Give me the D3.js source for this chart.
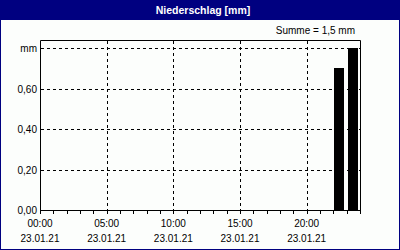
<!DOCTYPE html>
<html>
<head>
<meta charset="utf-8">
<script src="https://cdn.jsdelivr.net/npm/d3@7"></script>
<style>
  body { margin: 0; background: #fff; }
  svg text { font-family: "Liberation Sans", sans-serif; font-size: 10px; fill: #000; }
</style>
</head>
<body>
<div id="chart"></div>
<script>
// Hourly precipitation, 23.01.21
const hours = d3.range(0, 24);
const values = [0, 0, 0, 0, 0, 0, 0, 0, 0, 0, 0, 0,
                0, 0, 0, 0, 0, 0, 0, 0, 0, 0, 0.7, 0.8];
const yTicks = [0, 0.2, 0.4, 0.6, 0.8];
const xLabelHours = [0, 5, 10, 15, 20];
const dateLabel = "23.01.21";
const title = "Niederschlag [mm]";
const total = "Summe = 1,5 mm";

const width = 400, height = 250;
const navy = "#000080";

const svg = d3.select("#chart").append("svg")
    .attr("width", width)
    .attr("height", height)
    .attr("viewBox", [0, 0, width, height]);

// Background and frame
svg.append("rect")
    .attr("x", 0.5).attr("y", 0.5)
    .attr("width", width - 1).attr("height", height - 1)
    .attr("fill", "#fcfefc")
    .attr("stroke", navy);

svg.append("rect")
    .attr("x", 0).attr("y", 0)
    .attr("width", width).attr("height", 20)
    .attr("fill", navy);

svg.append("text")
    .attr("x", 203).attr("y", 14)
    .attr("text-anchor", "middle")
    .style("font-weight", "bold")
    .style("font-size", "10.5px")
    .style("fill", "#fff")
    .text(title);

svg.append("text")
    .attr("x", 355).attr("y", 34)
    .attr("text-anchor", "end")
    .text(total);

// Scales
const x = d3.scaleLinear().domain([0, 24]).range([40, 360]);
const y = d3.scaleLinear().domain([0, 0.84]).range([210, 40]);

const px = v => Math.round(v) + 0.5;

// Grid
const grid = svg.append("g")
    .attr("stroke", "#000")
    .attr("stroke-dasharray", "3,3");

grid.selectAll(".gy")
    .data(yTicks.filter(d => d > 0))
    .join("line")
    .attr("x1", 41).attr("x2", 360)
    .attr("y1", d => px(y(d))).attr("y2", d => px(y(d)));

grid.selectAll(".gx")
    .data(xLabelHours.filter(d => d > 0))
    .join("line")
    .attr("x1", d => px(x(d))).attr("x2", d => px(x(d)))
    .attr("y1", 41).attr("y2", 210);

// Bars
svg.append("g")
    .selectAll("rect")
    .data(hours.map((h, i) => ({h, v: values[i]})).filter(d => d.v > 0))
    .join("rect")
    .attr("x", d => Math.round(x(d.h)) + 1)
    .attr("width", d => Math.round(x(d.h + 1) - x(d.h)) - 3)
    .attr("y", d => Math.round(y(d.v)))
    .attr("height", d => 210 - Math.round(y(d.v)))
    .attr("fill", "#000");

// Plot box
svg.append("path")
    .attr("d", `M${px(x(0))},${px(y(0))}V${px(40)}H${px(x(24))}V${px(y(0))}Z`)
    .attr("fill", "none")
    .attr("stroke", "#000");

// Hourly ticks on x axis
svg.append("g")
    .attr("stroke", "#000")
    .selectAll("line")
    .data(d3.range(0, 25))
    .join("line")
    .attr("x1", d => px(x(d))).attr("x2", d => px(x(d)))
    .attr("y1", 210).attr("y2", 214);

// Y labels
svg.append("g")
    .selectAll("text")
    .data(yTicks)
    .join("text")
    .attr("x", 37)
    .attr("y", d => y(d) + 4)
    .attr("text-anchor", "end")
    .text(d => d === 0.8 ? "mm" : d3.format(".2f")(d).replace(".", ","));

// X labels
const xl = svg.append("g")
    .selectAll("g")
    .data(xLabelHours)
    .join("g");

xl.append("text")
    .attr("x", d => x(d))
    .attr("y", 227)
    .attr("text-anchor", "middle")
    .text(d => String(d).padStart(2, "0") + ":00");

xl.append("text")
    .attr("x", d => x(d))
    .attr("y", 242)
    .attr("text-anchor", "middle")
    .text(dateLabel);
</script>
</body>
</html>
